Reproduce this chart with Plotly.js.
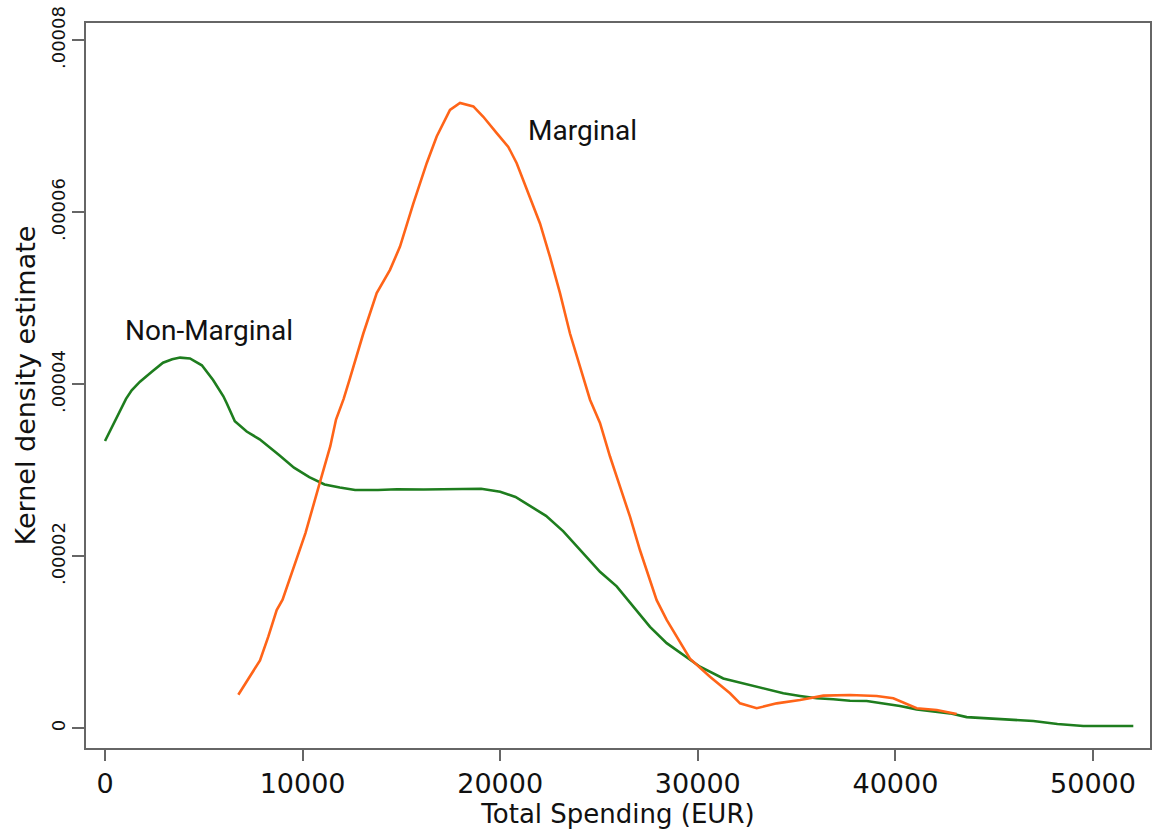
<!DOCTYPE html>
<html>
<head>
<meta charset="utf-8">
<script src="https://cdn.plot.ly/plotly-3.0.1.min.js"></script>
<style>html,body{margin:0;padding:0;background:#fff;}#chart{width:1152px;height:835px;}</style>
</head>
<body>
<div id="chart"></div>
<script>
// Non-Marginal (green) kernel density
const nonMarginalX = [0, 600, 1063, 1350, 1770, 2400, 2935, 3400, 3800, 4300, 4900, 5470, 5990, 6160, 6570, 7170, 7826, 8792, 9565, 10338, 11111, 11884, 12657, 13816, 14783, 16135, 17000, 18068, 19034, 20000, 20773, 21546, 22319, 23195, 24206, 25050, 25895, 26736, 27581, 28426, 29266, 30111, 31290, 32642, 34327, 35172, 36016, 36858, 37703, 38547, 39388, 40233, 41078, 41918, 42763, 43608, 45294, 46979, 48200, 49510, 52040];
const nonMarginalY = [3.34e-5, 3.62e-5, 3.83e-5, 3.93e-5, 4.03e-5, 4.15e-5, 4.25e-5, 4.29e-5, 4.31e-5, 4.30e-5, 4.22e-5, 4.05e-5, 3.86e-5, 3.78e-5, 3.57e-5, 3.45e-5, 3.36e-5, 3.18e-5, 3.03e-5, 2.92e-5, 2.835e-5, 2.80e-5, 2.77e-5, 2.77e-5, 2.78e-5, 2.777e-5, 2.78e-5, 2.79e-5, 2.785e-5, 2.75e-5, 2.69e-5, 2.58e-5, 2.47e-5, 2.29e-5, 2.03e-5, 1.82e-5, 1.65e-5, 1.41e-5, 1.18e-5, 0.99e-5, 0.85e-5, 0.716e-5, 0.58e-5, 0.50e-5, 0.407e-5, 0.376e-5, 0.349e-5, 0.337e-5, 0.32e-5, 0.317e-5, 0.29e-5, 0.26e-5, 0.22e-5, 0.20e-5, 0.174e-5, 0.13e-5, 0.11e-5, 0.085e-5, 0.05e-5, 0.027e-5, 0.027e-5];

// Marginal (orange) kernel density
const marginalX = [6747, 7170, 7844, 8264, 8689, 8986, 9565, 10145, 10821, 11401, 11691, 12077, 12399, 13072, 13750, 14423, 14929, 15602, 16280, 16786, 17459, 17966, 18640, 19145, 19823, 20410, 20835, 21341, 22014, 22520, 23026, 23532, 24038, 24545, 25050, 25557, 26063, 26569, 27075, 27581, 27918, 28425, 28931, 29605, 30617, 31630, 32136, 32980, 33993, 35172, 36352, 37703, 39053, 39894, 41078, 42090, 43102];
const marginalY = [0.39e-5, 0.54e-5, 0.79e-5, 1.065e-5, 1.375e-5, 1.495e-5, 1.883e-5, 2.27e-5, 2.815e-5, 3.28e-5, 3.59e-5, 3.83e-5, 4.07e-5, 4.59e-5, 5.06e-5, 5.33e-5, 5.60e-5, 6.10e-5, 6.57e-5, 6.88e-5, 7.19e-5, 7.27e-5, 7.23e-5, 7.11e-5, 6.92e-5, 6.76e-5, 6.57e-5, 6.26e-5, 5.87e-5, 5.48e-5, 5.06e-5, 4.59e-5, 4.20e-5, 3.82e-5, 3.55e-5, 3.16e-5, 2.81e-5, 2.46e-5, 2.07e-5, 1.72e-5, 1.49e-5, 1.26e-5, 1.065e-5, 0.81e-5, 0.60e-5, 0.407e-5, 0.29e-5, 0.233e-5, 0.29e-5, 0.33e-5, 0.38e-5, 0.387e-5, 0.376e-5, 0.35e-5, 0.233e-5, 0.213e-5, 0.166e-5];

const xTickVals = [0, 10000, 20000, 30000, 40000, 50000];
const xTickText = ['0', '10000', '20000', '30000', '40000', '50000'];
const yTickVals = [0, 0.00002, 0.00004, 0.00006, 0.00008];
const yTickText = ['0', '.00002', '.00004', '.00006', '.00008'];

const seriesLabels = ['Non-Marginal', 'Marginal'];
const labelX = [5263, 24140];
const labelY = [4.63e-5, 6.95e-5];

const traces = [
  {x: nonMarginalX, y: nonMarginalY, type: 'scatter', mode: 'lines', name: seriesLabels[0],
   line: {color: '#1e7d1e', width: 2.6}},
  {x: marginalX, y: marginalY, type: 'scatter', mode: 'lines', name: seriesLabels[1],
   line: {color: '#ff6418', width: 2.6}}
];

const layout = {
  width: 1152, height: 835,
  margin: {l: 86, r: 2, t: 23, b: 87},
  paper_bgcolor: '#fff', plot_bgcolor: '#fff',
  showlegend: false,
  font: {family: 'DejaVu Sans, sans-serif', color: '#111'},
  xaxis: {
    range: [-962, 52885], tickvals: xTickVals, ticktext: xTickText,
    ticks: 'outside', ticklen: 11, tickwidth: 2, tickcolor: '#666',
    showline: true, linecolor: '#666', linewidth: 2, mirror: true,
    showgrid: false, zeroline: false,
    tickfont: {family: 'DejaVu Sans, sans-serif', size: 27, color: '#111'},
    title: {text: 'Total Spending (EUR)', font: {family: 'DejaVu Sans, sans-serif', size: 26, color: '#111'}, standoff: 0}
  },
  yaxis: {
    range: [-2.29e-6, 8.20e-5], tickvals: yTickVals, ticktext: yTickText,
    ticks: 'outside', ticklen: 12, tickwidth: 2, tickcolor: '#666', tickangle: -90,
    showline: true, linecolor: '#666', linewidth: 2, mirror: true,
    showgrid: false, zeroline: false,
    tickfont: {family: 'DejaVu Sans, sans-serif', size: 18, color: '#111'},
    title: {text: 'Kernel density estimate', font: {family: 'DejaVu Sans, sans-serif', size: 27, color: '#111'}, standoff: 4}
  },
  annotations: seriesLabels.map((t, i) => ({
    x: labelX[i], y: labelY[i], xref: 'x', yref: 'y', text: t, showarrow: false,
    xanchor: 'center', yanchor: 'middle',
    font: {family: 'Roboto, sans-serif', size: 28, color: '#111'}
  }))
};

Plotly.newPlot('chart', traces, layout, {displayModeBar: false, staticPlot: true});
</script>
</body>
</html>
